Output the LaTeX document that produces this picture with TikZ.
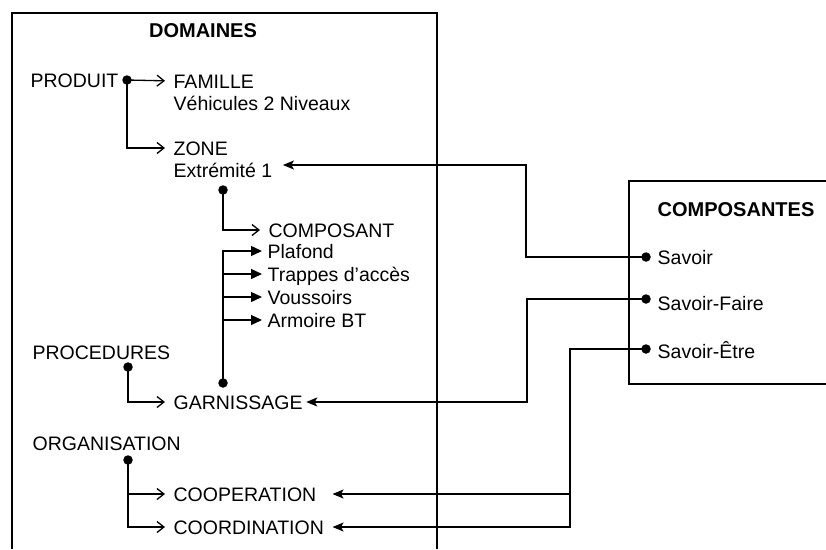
\documentclass[tikz,border=0pt]{standalone}
\usepackage{fontspec}
\setmainfont{Liberation Sans}
\usetikzlibrary{arrows.meta,calc}
\begin{document}
\begin{tikzpicture}[x=1pt,y=-1pt, line width=1.3pt,
  txt/.style={anchor=west, inner xsep=0pt, inner ysep=0pt, text height=14pt, text depth=0pt, font=\fontsize{19.5}{21}\selectfont},
  ttl/.style={txt, font=\fontsize{20}{22}\selectfont\bfseries},
  dot/.style={circle, fill, inner sep=0pt, minimum size=9.5pt},
  oarr/.style={-{Straight Barb[length=7pt,width=11pt]}, shorten >=8pt},
  farr/.style={-{Triangle[length=11pt,width=10pt]}, shorten >=5pt},
  iarr/.style={-{Stealth[length=11pt,width=9pt,inset=2.5pt]}},
]
\useasboundingbox (0,0) rectangle (826,549);
% boxes (open sides run off the picture)
\draw (12,549) -- (12,13) -- (437,13) -- (437,549);
\draw (826,181) -- (629,181) -- (629,384) -- (826,384);
% DOMAINES texts
\node[ttl, anchor=center] (domt) at (203,30) {DOMAINES};
\node[txt] (produit) at (30,80) {PRODUIT};
\node[dot] (dp) at (127,80) {};
\node[txt] (famille) at (173,81) {FAMILLE};
\node[txt] (vehic) at (173,103) {Véhicules 2 Niveaux};
\node[txt] (zone) at (173,148) {ZONE};
\node[txt] (extr) at (173,170) {Extrémité 1};
\node[dot] (dz) at (223,190) {};
\node[txt] (compo) at (268,230) {COMPOSANT};
\node[txt] (plafond) at (267,251) {Plafond};
\node[txt] (trappes) at (267,274) {Trappes d’accès};
\node[txt] (vouss) at (267,297) {Voussoirs};
\node[txt] (armoire) at (267,320) {Armoire BT};
\node[dot] (dg) at (223,383) {};
\node[txt] (proc) at (32,352) {PROCEDURES};
\node[dot] (dpr) at (128,367) {};
\node[txt] (garn) at (173,402) {GARNISSAGE};
\node[txt] (orga) at (32,443) {ORGANISATION};
\node[dot] (dor) at (128,460) {};
\node[txt] (coop) at (173,494) {COOPERATION};
\node[txt] (coord) at (173,527) {COORDINATION};
% COMPOSANTES texts
\node[ttl] (compt) at (657,209) {COMPOSANTES};
\node[txt] (sav) at (657,257) {Savoir};
\node[txt] (savf) at (657,303) {Savoir-Faire};
\node[txt] (save) at (657,351) {Savoir-Être};
\node[dot] (ds) at (646,257) {};
\node[dot] (dsf) at (646,299) {};
\node[dot] (dse) at (646,349) {};
\coordinate (cv) at (570,494);
% tree connectors
\draw[oarr] (dp.center) -- (famille.west);
\draw[oarr] (dp.center) |- (zone.west);
\draw[oarr] (dz.center) |- (compo.west);
\draw[farr] (dg.center) |- (plafond.west);
\draw[farr] (dg.center |- trappes.west) -- (trappes.west);
\draw[farr] (dg.center |- vouss.west) -- (vouss.west);
\draw[farr] (dg.center |- armoire.west) -- (armoire.west);
\draw[oarr] (dpr.center) |- (garn.west);
\draw[oarr] (dor.center) |- (coop.west);
\draw[oarr] (dor.center) |- (coord.west);
% incoming connectors
\draw[iarr] (ds.center) -| (526,165) -- ($(extr.east)+(10,-5)$);
\draw[iarr] (dsf.center) -| (527,402) -- ($(garn.east)+(3,0)$);
\draw[iarr] (dse.center) -| (570,527) -- ($(coord.east)+(8,0)$);
\draw[iarr] (cv) -- ($(coord.east |- coop.east)+(8,0)$);
\end{tikzpicture}
\end{document}
